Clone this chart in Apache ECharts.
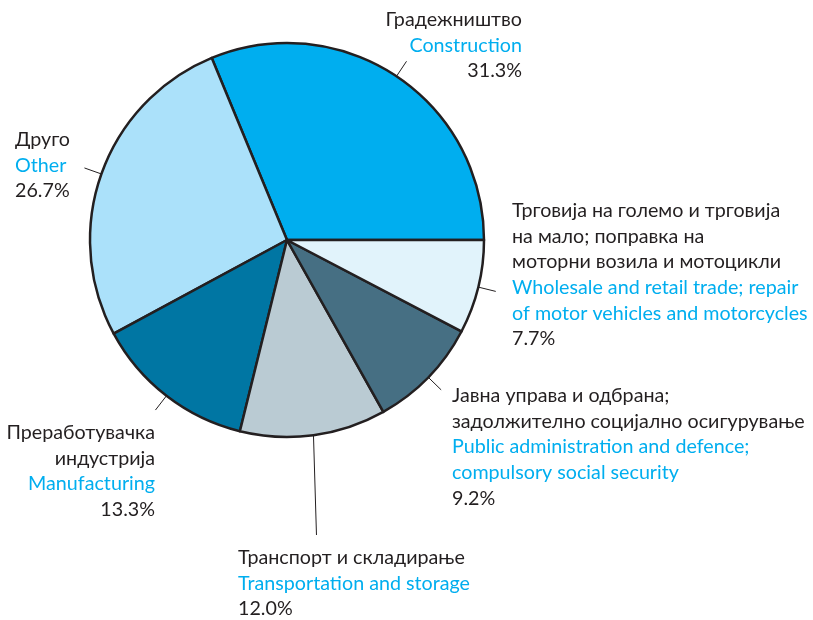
<!DOCTYPE html>
<html>
<head>
<meta charset="utf-8">
<script src="https://cdn.jsdelivr.net/npm/echarts@6/dist/echarts.min.js"></script>
<style>
  html, body { margin: 0; padding: 0; background: #fff; }
  #chart { width: 813px; height: 620px; }
</style>
</head>
<body>
<div id="chart"></div>
<script>
  // sectors, counter-clockwise from 3 o'clock
  var namesMk = [
    'Градежништво',
    'Друго',
    'Преработувачка\nиндустрија',
    'Транспорт и складирање',
    'Јавна управа и одбрана;\nзадолжително социјално осигурување',
    'Трговија на големо и трговија\nна мало; поправка на\nмоторни возила и мотоцикли'
  ]
  var namesEn = [
    'Construction',
    'Other',
    'Manufacturing',
    'Transportation and storage',
    'Public administration and defence;\ncompulsory social security',
    'Wholesale and retail trade; repair\nof motor vehicles and motorcycles'
  ]
  var shares = [31.3, 26.7, 13.3, 12.0, 9.2, 7.7]
  var colors = ['#00aeef', '#abe1fa', '#0076a3', '#bacbd3', '#466f83', '#e1f3fb']

  // label placement: [x, top, align]
  var labelPos = [
    [522, 7, 'right'],
    [15, 127, 'left'],
    [155, 420, 'right'],
    [238, 545, 'left'],
    [452, 383, 'left'],
    [512, 198, 'left']
  ]

  var ink = '#231f20'
  var cyan = '#00aeef'
  var font = 'Lato'
  var fs = 19.7
  var lh = 25.6

  function richSet (align) {
    return {
      mk: { color: ink, fontFamily: font, fontSize: fs, lineHeight: lh, align: align },
      en: { color: cyan, fontFamily: font, fontSize: fs, lineHeight: lh, align: align },
      pc: { color: ink, fontFamily: font, fontSize: fs, lineHeight: lh, align: align }
    }
  }

  var data = shares.map(function (v, i) {
    return {
      name: namesEn[i],
      value: v,
      itemStyle: { color: colors[i] },
      label: { align: labelPos[i][2], rich: richSet(labelPos[i][2]) }
    }
  })

  var myChart = echarts.init(document.getElementById('chart'))
  myChart.setOption({
    animation: false,
    series: [{
      type: 'pie',
      center: [287, 240],
      radius: 197,
      startAngle: 0,
      clockwise: false,
      avoidLabelOverlap: false,
      itemStyle: {
        borderColor: ink,
        borderWidth: 2.5,
        borderJoin: 'round'
      },
      emphasis: { disabled: true },
      label: {
        show: true,
        position: 'outside',
        formatter: function (p) {
          var i = p.dataIndex
          return '{mk|' + namesMk[i] + '}\n{en|' + namesEn[i] + '}\n{pc|' + shares[i].toFixed(1) + '%}'
        }
      },
      labelLine: {
        show: true,
        length: 18,
        length2: 0,
        lineStyle: { color: ink, width: 1 }
      },
      labelLayout: function (p) {
        var L = labelPos[p.dataIndex]
        var pts = p.labelLinePoints
        var a = pts[0]
        var b = pts[1]
        if (p.dataIndex === 3) {
          b = [a[0] + 3, 535]
        }
        return {
          x: L[0],
          y: L[1],
          align: L[2],
          verticalAlign: 'top',
          labelLinePoints: [a, b, b]
        }
      },
      data: data
    }]
  })
</script>
</body>
</html>
